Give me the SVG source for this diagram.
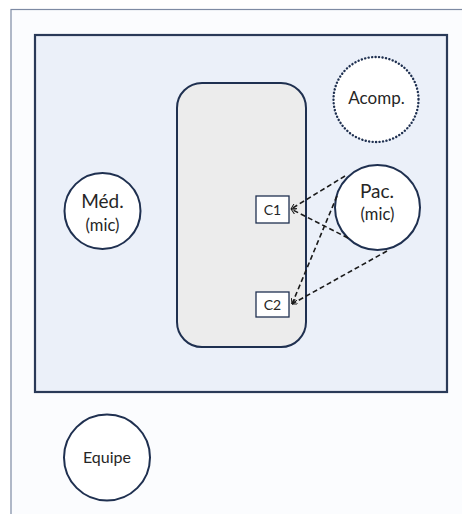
<svg xmlns="http://www.w3.org/2000/svg" width="462" height="514" viewBox="0 0 462 514">
<style>
.node{fill:#fff;stroke:#1f3050;stroke-width:2}
.t{font-family:Lato,"Liberation Sans",sans-serif;fill:#262626;text-anchor:middle}
.dash{fill:none;stroke:#1a1a1a;stroke-width:1.6;stroke-dasharray:5 3}
</style>
<defs>
<marker id="ah" viewBox="0 0 10 10" refX="9" refY="5" markerWidth="6" markerHeight="6" orient="auto-start-reverse" markerUnits="userSpaceOnUse">
<path d="M0,0 L9,5 L0,10" fill="none" stroke="#1a1a1a" stroke-width="1.6"/>
</marker>
</defs>
<rect x="0" y="0" width="462" height="514" fill="#ffffff"/>
<rect id="frame" x="11" y="9.5" width="460" height="510" fill="#fbfcfe" stroke="#7d8aa3" stroke-width="1.2"/>
<g id="room">
<rect x="35" y="35" width="412" height="357" fill="#ebf0f9" stroke="#2a3a58" stroke-width="2.2"/>
</g>
<g id="table">
<rect x="177" y="83" width="129" height="264" rx="25" ry="25" fill="#ececec" stroke="#1f3050" stroke-width="2"/>
</g>
<g id="acomp">
<circle cx="376" cy="99.5" r="42.5" fill="#fff" stroke="#1f3050" stroke-width="2.4" stroke-dasharray="0.1 3.4" stroke-linecap="round"/>
<text class="t" x="376.5" y="104" font-size="17">Acomp.</text>
</g>
<g id="med">
<circle class="node" cx="102.5" cy="211" r="38"/>
<text class="t" x="102.5" y="207.5" font-size="19">Méd.</text>
<text class="t" x="102.5" y="231" font-size="16.5">(mic)</text>
</g>
<g id="pac">
<circle class="node" cx="377.5" cy="207.5" r="42.5"/>
<text class="t" x="377" y="197.5" font-size="19">Pac.</text>
<text class="t" x="377.5" y="220" font-size="16.5">(mic)</text>
</g>
<g id="equipe">
<circle class="node" cx="107" cy="457.5" r="43"/>
<text class="t" x="107" y="462.5" font-size="16">Equipe</text>
</g>
<g id="c1">
<rect x="256" y="196" width="33" height="27" fill="#fff" stroke="#1f3050" stroke-width="1.3"/>
<text class="t" x="272.5" y="214.5" font-size="14">C1</text>
</g>
<g id="c2">
<rect x="256" y="292" width="33" height="25" fill="#fff" stroke="#1f3050" stroke-width="1.3"/>
<text class="t" x="272.5" y="309.5" font-size="14">C2</text>
</g>
<g id="connectors">
<line class="dash" x1="345" y1="176" x2="291" y2="209" marker-end="url(#ah)"/>
<line class="dash" x1="348" y1="238" x2="291" y2="209" marker-end="url(#ah)"/>
<line class="dash" x1="337" y1="196" x2="292" y2="304" marker-end="url(#ah)"/>
<line class="dash" x1="387" y1="251" x2="292" y2="304" marker-end="url(#ah)"/>
</g>
</svg>
